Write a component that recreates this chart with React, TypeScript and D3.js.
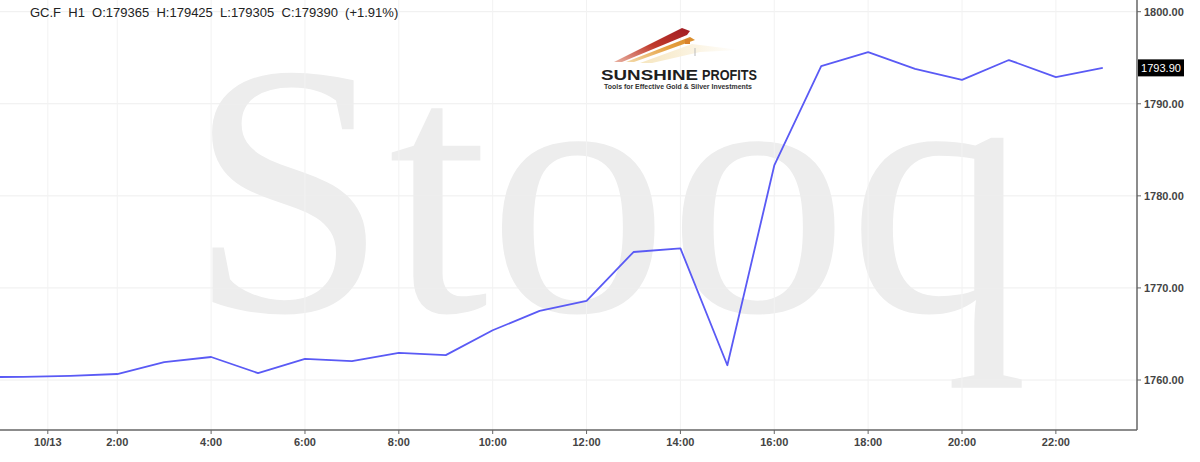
import React from "react";
import * as d3 from "d3";

const hours: number[] = [-1, 0, 1, 2, 3, 4, 5, 6, 7, 8, 9, 10, 11, 12, 13, 14, 15, 16, 17, 18, 19, 20, 21, 22, 23];
const closes: number[] = [1760.3, 1760.35, 1760.45, 1760.65, 1761.95, 1762.5, 1760.75, 1762.3, 1762.05, 1762.95, 1762.7, 1765.4, 1767.5, 1768.6, 1773.9, 1774.3, 1761.6, 1783.3, 1794.1, 1795.6, 1793.8, 1792.6, 1794.75, 1792.9, 1793.9];

const xTickHours: number[] = [0.52, 2, 4, 6, 8, 10, 12, 14, 16, 18, 20, 22];
const xTickLabels: string[] = ["10/13", "2:00", "4:00", "6:00", "8:00", "10:00", "12:00", "14:00", "16:00", "18:00", "20:00", "22:00"];
const yTicks: number[] = [1760, 1770, 1780, 1790, 1800];
const lastPrice = 1793.9;
const titleText = "GC.F  H1  O:179365  H:179425  L:179305  C:179390  (+1.91%)";

const W = 1200;
const H = 462;
const plotRight = 1137;
const plotBottom = 430;

export default function App() {
  const x = d3.scaleLinear().domain([0, 22]).range([23.4, 23.4 + 46.93 * 22]);
  const y = d3.scaleLinear().domain([1760, 1800]).range([380, 11.7]);
  const line = d3
    .line<number>()
    .x((_, i) => x(hours[i]))
    .y((d) => y(d));
  const path = line(closes) || "";

  return (
    <svg
      width={W}
      height={H}
      style={{ position: "absolute", left: 0, top: 0, background: "#fff" }}
      fontFamily="'Liberation Sans', Arial, sans-serif"
    >
      <defs>
        <clipPath id="plot">
          <rect x={0} y={0} width={plotRight} height={plotBottom} />
        </clipPath>
        <linearGradient id="redG" x1="0" y1="1" x2="1" y2="0">
          <stop offset="0" stopColor="#e8b0a0" />
          <stop offset="0.5" stopColor="#c0392b" />
          <stop offset="1" stopColor="#a01c24" />
        </linearGradient>
        <linearGradient id="orG" x1="0" y1="1" x2="1" y2="0">
          <stop offset="0" stopColor="#f3d9a8" />
          <stop offset="0.6" stopColor="#e5a040" />
          <stop offset="1" stopColor="#d98b2a" />
        </linearGradient>
        <linearGradient id="ylG" x1="0" y1="0" x2="1" y2="0">
          <stop offset="0" stopColor="#f5e3b8" />
          <stop offset="1" stopColor="#ffffff" />
        </linearGradient>
      </defs>

      {/* watermark */}
      <text
        x={188}
        y={311}
        fontFamily="'Liberation Serif', 'DejaVu Serif', serif"
        fontSize={360}
        fill="#ededed"
      >
        Stooq
      </text>

      {/* grid */}
      <g>
        {yTicks.map((t) => (
          <line key={"gy" + t} x1={0} x2={plotRight} y1={y(t)} y2={y(t)} stroke="#eeeeee" strokeWidth={1} />
        ))}
        {xTickHours.map((h, i) => (
          <line key={"gx" + i} x1={x(h)} x2={x(h)} y1={0} y2={plotBottom} stroke="#f2f2f2" strokeWidth={1} />
        ))}
      </g>

      {/* logo */}
      <g>
        <polygon points="614,62 682,28 690,31 687,35 622,62" fill="url(#redG)" />
        <polygon points="626,62 690,37 695,40 634,62" fill="url(#orG)" />
        <polygon points="640,63 692,44 740,50 700,52 652,63" fill="url(#ylG)" opacity={0.9} />
        <rect x={685} y={39} width={5} height={5} fill="#d9822b" />
        <line x1={695} y1={48} x2={695} y2={56} stroke="#bbbbbb" strokeWidth={1} />
        <text x={601} y={80} fontSize={15} fontWeight="bold" fill="#1e1e1e" textLength={97} lengthAdjust="spacingAndGlyphs">
          SUNSHINE
        </text>
        <text x={702} y={80} fontSize={15} fill="#1e1e1e" textLength={55} lengthAdjust="spacingAndGlyphs" fontWeight={600}>
          PROFITS
        </text>
        <text x={604} y={89} fontSize={6.5} fontWeight="bold" fill="#333" textLength={148} lengthAdjust="spacingAndGlyphs">
          Tools for Effective Gold &amp; Silver Investments
        </text>
      </g>

      {/* price line */}
      <path d={path} fill="none" stroke="#5a5af5" strokeWidth={1.8} clipPath="url(#plot)" strokeLinejoin="round" />

      {/* axes */}
      <line x1={0} x2={plotRight} y1={plotBottom} y2={plotBottom} stroke="#666" strokeWidth={1.5} />
      <line x1={plotRight} x2={plotRight} y1={0} y2={plotBottom} stroke="#666" strokeWidth={1.5} />

      {xTickHours.map((h, i) => (
        <g key={"xt" + i}>
          <line x1={x(h)} x2={x(h)} y1={plotBottom} y2={plotBottom + 4} stroke="#666" strokeWidth={1} />
          <text x={x(h)} y={446} fontSize={11} fontWeight="bold" fill="#444" textAnchor="middle">
            {xTickLabels[i]}
          </text>
        </g>
      ))}

      {yTicks.map((t) => (
        <g key={"yt" + t}>
          <line x1={plotRight} x2={plotRight + 4} y1={y(t)} y2={y(t)} stroke="#666" strokeWidth={1} />
          <text x={1144} y={y(t) + 4} fontSize={11} fontWeight="bold" fill="#444">
            {t.toFixed(2)}
          </text>
        </g>
      ))}

      {/* last price label */}
      <rect x={plotRight + 1} y={y(lastPrice) - 8.5} width={46} height={17} fill="#000" />
      <text x={plotRight + 24} y={y(lastPrice) + 4} fontSize={11} fill="#fff" textAnchor="middle">
        {lastPrice.toFixed(2)}
      </text>

      {/* title */}
      <text x={30} y={17} fontSize={13} fill="#222" style={{ whiteSpace: "pre" }} xmlSpace="preserve">
        {titleText}
      </text>
    </svg>
  );
}
